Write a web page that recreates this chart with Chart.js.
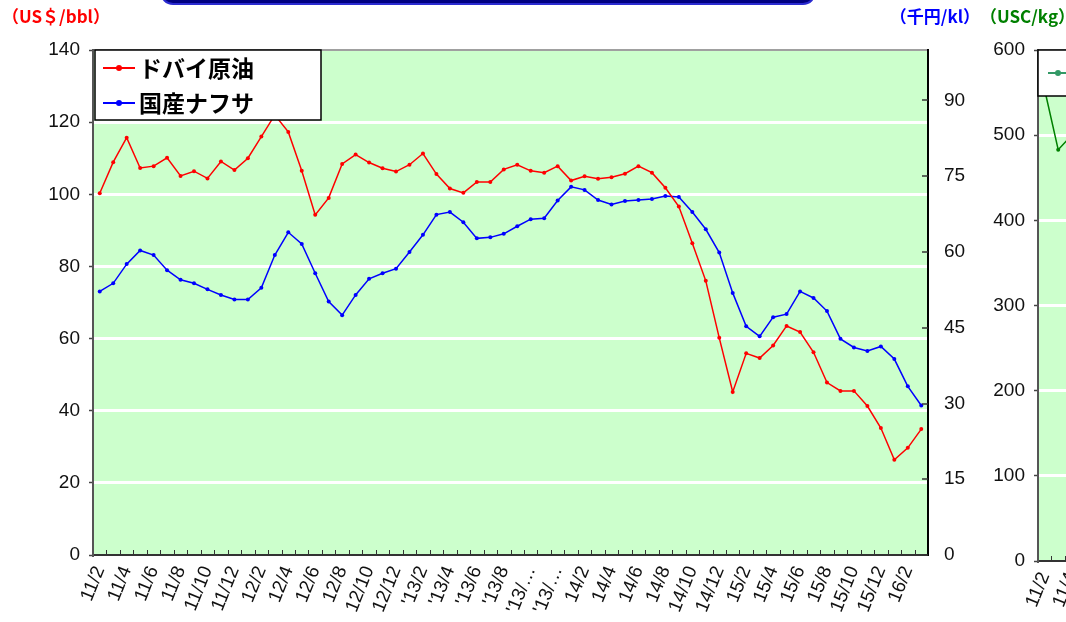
<!DOCTYPE html>
<html>
<head>
<meta charset="utf-8">
<script src="https://cdn.jsdelivr.net/npm/chart.js@4.4.0/dist/chart.umd.min.js"></script>
<style>
    html, body { margin: 0; padding: 0; background: #fff; overflow: hidden; }
    #wrap { position: relative; width: 1066px; height: 622px; overflow: hidden; }
    #main { position: absolute; left: 0; top: 0; }
    #side { position: absolute; left: 980px; top: 0; }
</style>
</head>
<body>
<div id="wrap">
    <canvas id="main" width="980" height="622"></canvas>
    <canvas id="side" width="945" height="622"></canvas>
</div>
<script>
(function () {
    'use strict';

    // months 2011/2 .. 2016/3
    var months = [
        '2011/02', '2011/03', '2011/04', '2011/05', '2011/06', '2011/07', '2011/08', '2011/09', '2011/10', '2011/11', '2011/12', '2012/01',
        '2012/02', '2012/03', '2012/04', '2012/05', '2012/06', '2012/07', '2012/08', '2012/09', '2012/10', '2012/11', '2012/12', '2013/01',
        '2013/02', '2013/03', '2013/04', '2013/05', '2013/06', '2013/07', '2013/08', '2013/09', '2013/10', '2013/11', '2013/12', '2014/01',
        '2014/02', '2014/03', '2014/04', '2014/05', '2014/06', '2014/07', '2014/08', '2014/09', '2014/10', '2014/11', '2014/12', '2015/01',
        '2015/02', '2015/03', '2015/04', '2015/05', '2015/06', '2015/07', '2015/08', '2015/09', '2015/10', '2015/11', '2015/12', '2016/01',
        '2016/02', '2016/03'
    ];

    var xTickLabels = [
        '11/2', '', '11/4', '', '11/6', '', '11/8', '', '11/10', '', '11/12', '',
        '12/2', '', '12/4', '', '12/6', '', '12/8', '', '12/10', '', '12/12', '',
        "'13/2", '', "'13/4", '', "'13/6", '', "'13/8", '', "'13/…", '', "'13/…", '',
        '14/2', '', '14/4', '', '14/6', '', '14/8', '', '14/10', '', '14/12', '',
        '15/2', '', '15/4', '', '15/6', '', '15/8', '', '15/10', '', '15/12', '',
        '16/2', ''
    ];

    var sideTickLabels = ['11/2', '', '11/4', ''];

    // ドバイ原油 (US$/bbl, left axis)
    var dubaiValues = [
        100.3, 108.9, 115.7, 107.3, 107.8, 110.1, 105.1, 106.4, 104.4, 109.1, 106.7, 110.0,
        116.0, 122.0, 117.3, 106.5, 94.3, 99.0, 108.4, 111.0, 108.8, 107.2, 106.3, 108.2,
        111.3, 105.6, 101.6, 100.4, 103.4, 103.4, 106.9, 108.2, 106.5, 106.0, 107.8, 103.8,
        105.0, 104.3, 104.7, 105.7, 107.8, 106.0, 101.8, 96.6, 86.4, 76.0, 60.2, 45.2,
        55.9, 54.6, 58.1, 63.5, 61.8, 56.2, 47.8, 45.5, 45.5, 41.3, 35.2, 26.4,
        29.7, 34.9
    ];

    // 国産ナフサ (千円/kl, right axis)
    var naphthaValues = [
        52.2, 53.8, 57.6, 60.3, 59.4, 56.4, 54.5, 53.8, 52.6, 51.5, 50.6, 50.6,
        52.9, 59.4, 63.9, 61.6, 55.8, 50.2, 47.5, 51.5, 54.7, 55.8, 56.7, 60.0,
        63.4, 67.4, 67.9, 65.9, 62.7, 62.9, 63.6, 65.1, 66.5, 66.7, 70.2, 72.9,
        72.3, 70.3, 69.4, 70.1, 70.3, 70.5, 71.1, 70.9, 67.9, 64.5, 59.9, 51.9,
        45.3, 43.3, 47.1, 47.7, 52.2, 50.9, 48.3, 42.8, 41.1, 40.4, 41.3, 38.8,
        33.4, 29.6
    ];

    // right-hand chart (USC/kg), only the first months are visible
    var greenValues = [553, 483, 500];

    var leftTicks = { min: 0, max: 140, step: 20 };
    var rightTicks = { min: 0, max: 100, step: 15 };
    var sideTicks = { min: 0, max: 600, step: 100 };

    var seriesNames = ['ドバイ原油', '国産ナフサ'];
    var seriesColors = ['#ff0000', '#0000ff'];

    var NUM_FONT = "'Liberation Sans Narrow', 'Liberation Sans', Arial, sans-serif";
    var LBL_FONT = "'Liberation Sans', Arial, sans-serif";
    var JP_FONT = "'Noto Sans CJK JP', 'Noto Sans', sans-serif";

    function fixWidth(w) {
        return function (scale) { scale.width = w; };
    }

    function fixHeight(h) {
        return function (scale) { scale.height = h; };
    }

    function gridColor(max) {
        return function (ctx) {
            if (!ctx.tick || ctx.tick.value <= 0 || ctx.tick.value >= max) {
                return 'rgba(0,0,0,0)';
            }
            return '#ffffff';
        };
    }

    var plotBackground = {
        id: 'plotBackground',
        beforeDraw: function (chart) {
            var a = chart.chartArea;
            var c = chart.ctx;
            c.save();
            c.fillStyle = '#ccffcc';
            c.fillRect(a.left, a.top, a.right - a.left, a.bottom - a.top);
            c.strokeStyle = '#a0a0a0';
            c.lineWidth = 2;
            c.beginPath();
            c.moveTo(a.left, a.top);
            c.lineTo(a.right, a.top);
            c.stroke();
            c.restore();
        }
    };

    function drawInwardXTicks(chart) {
        var x = chart.scales.x;
        var a = chart.chartArea;
        var c = chart.ctx;
        var n = x.getLabels().length;
        var step = (x.right - x.left) / n;
        c.save();
        c.strokeStyle = '#333';
        c.lineWidth = 1;
        c.beginPath();
        for (var i = 1; i < n; i++) {
            var px = Math.round(x.left + i * step) + 0.5;
            c.moveTo(px, a.bottom);
            c.lineTo(px, a.bottom - 5);
        }
        c.stroke();
        c.restore();
    }

    var mainDecor = {
        id: 'mainDecor',
        afterDatasetsDraw: function (chart) {
            var c = chart.ctx;
            var a = chart.chartArea;
            drawInwardXTicks(chart);

            // right axis tick marks pointing inward
            var y1 = chart.scales.y1;
            c.save();
            c.strokeStyle = '#333';
            c.lineWidth = 1.5;
            c.beginPath();
            y1.ticks.forEach(function (t) {
                var py = Math.round(y1.getPixelForValue(t.value));
                c.moveTo(a.right, py);
                c.lineTo(a.right - 6, py);
            });
            c.stroke();

            // legend box
            var lx = a.left + 2, ly = a.top, lw = 226, lh = 70;
            c.fillStyle = '#ffffff';
            c.fillRect(lx, ly, lw, lh);
            c.strokeStyle = '#000';
            c.lineWidth = 1.5;
            c.strokeRect(lx, ly, lw, lh);
            c.font = 'bold 23px ' + JP_FONT;
            c.textBaseline = 'middle';
            c.textAlign = 'left';
            seriesNames.forEach(function (name, i) {
                var cy = ly + 18 + i * 35;
                c.strokeStyle = seriesColors[i];
                c.lineWidth = 2;
                c.beginPath();
                c.moveTo(lx + 8, cy);
                c.lineTo(lx + 40, cy);
                c.stroke();
                c.fillStyle = seriesColors[i];
                c.beginPath();
                c.arc(lx + 24, cy, 3, 0, Math.PI * 2);
                c.fill();
                c.fillStyle = '#000';
                c.fillText(name, lx + 44, cy);
            });
            c.restore();
        },
        afterDraw: function (chart) {
            var c = chart.ctx;
            c.save();
            // bottom of the title panel above
            c.fillStyle = '#000080';
            c.strokeStyle = '#2a2ad0';
            c.lineWidth = 2;
            c.beginPath();
            c.roundRect(161, -40, 654, 44, 12);
            c.fill();
            c.stroke();

            c.font = 'bold 17px ' + JP_FONT;
            c.textBaseline = 'middle';
            c.textAlign = 'left';
            c.fillStyle = '#ff0000';
            c.fillText('（US＄/bbl）', 2, 17);
            c.fillStyle = '#0000ff';
            c.textAlign = 'right';
            c.fillText('（千円/kl）', 980, 17);
            c.restore();
        }
    };

    var sideDecor = {
        id: 'sideDecor',
        afterDatasetsDraw: function (chart) {
            var c = chart.ctx;
            var a = chart.chartArea;
            drawInwardXTicks(chart);
            c.save();
            c.fillStyle = '#ffffff';
            c.fillRect(a.left, a.top, 220, 46);
            c.strokeStyle = '#000';
            c.lineWidth = 1.5;
            c.strokeRect(a.left, a.top, 220, 46);
            c.strokeStyle = '#339966';
            c.lineWidth = 2;
            c.beginPath();
            c.moveTo(a.left + 10, a.top + 23);
            c.lineTo(a.left + 42, a.top + 23);
            c.stroke();
            c.fillStyle = '#339966';
            c.beginPath();
            c.arc(a.left + 20, a.top + 23, 3, 0, Math.PI * 2);
            c.fill();
            c.restore();
        },
        afterDraw: function (chart) {
            var c = chart.ctx;
            c.save();
            c.font = 'bold 17px ' + JP_FONT;
            c.textBaseline = 'middle';
            c.textAlign = 'left';
            c.fillStyle = '#008000';
            c.fillText('（USC/kg）', 0, 17);
            c.restore();
        }
    };

    function lineDataset(label, data, color, axis) {
        return {
            label: label,
            data: data,
            yAxisID: axis,
            borderColor: color,
            backgroundColor: color,
            borderWidth: 1.5,
            pointRadius: 2,
            pointHoverRadius: 2,
            pointBorderWidth: 0,
            tension: 0,
            fill: false
        };
    }

    function xAxis(labels, height) {
        return {
            type: 'category',
            offset: true,
            afterFit: fixHeight(height),
            grid: { display: false, drawTicks: false },
            border: { display: true, color: '#333', width: 2 },
            ticks: {
                autoSkip: false,
                minRotation: 68,
                maxRotation: 68,
                padding: 8,
                color: '#111',
                font: { family: LBL_FONT, size: 19 },
                callback: function (v, i) { return labels[i] || ''; }
            }
        };
    }

    function valueAxis(range, width, position) {
        return {
            type: 'linear',
            position: position,
            min: range.min,
            max: range.max,
            afterFit: fixWidth(width),
            grid: {
                color: gridColor(range.max),
                lineWidth: 3,
                drawTicks: true,
                tickLength: 4,
                tickColor: '#444',
                tickWidth: 1.5
            },
            border: { display: true, color: '#555', width: 2 },
            ticks: {
                stepSize: range.step,
                padding: 9,
                color: '#111',
                font: { family: NUM_FONT, size: 19 }
            }
        };
    }

    var mainYRight = {
        type: 'linear',
        position: 'right',
        min: rightTicks.min,
        max: rightTicks.max,
        afterFit: fixWidth(52),
        grid: { display: false, drawTicks: false, drawOnChartArea: false },
        border: { display: true, color: '#000', width: 2 },
        ticks: {
            stepSize: rightTicks.step,
            includeBounds: false,
            padding: 16,
            color: '#111',
            font: { family: NUM_FONT, size: 19 }
        }
    };

    new Chart(document.getElementById('main'), {
        type: 'line',
        data: {
            labels: months,
            datasets: [
                lineDataset(seriesNames[0], dubaiValues, seriesColors[0], 'y'),
                lineDataset(seriesNames[1], naphthaValues, seriesColors[1], 'y1')
            ]
        },
        options: {
            responsive: false,
            animation: false,
            layout: { padding: { top: 50, left: 0, right: 0, bottom: 0 } },
            plugins: { legend: { display: false }, tooltip: { enabled: false } },
            scales: {
                x: xAxis(xTickLabels, 67),
                y: valueAxis(leftTicks, 93, 'left'),
                y1: mainYRight
            }
        },
        plugins: [plotBackground, mainDecor]
    });

    new Chart(document.getElementById('side'), {
        type: 'line',
        data: {
            labels: months,
            datasets: [
                lineDataset('', greenValues, '#008000', 'y')
            ]
        },
        options: {
            responsive: false,
            animation: false,
            layout: { padding: { top: 50, left: 0, right: 52, bottom: 0 } },
            plugins: { legend: { display: false }, tooltip: { enabled: false } },
            scales: {
                x: xAxis(sideTickLabels, 61),
                y: valueAxis(sideTicks, 58, 'left')
            }
        },
        plugins: [plotBackground, sideDecor]
    });
})();
</script>
</body>
</html>
